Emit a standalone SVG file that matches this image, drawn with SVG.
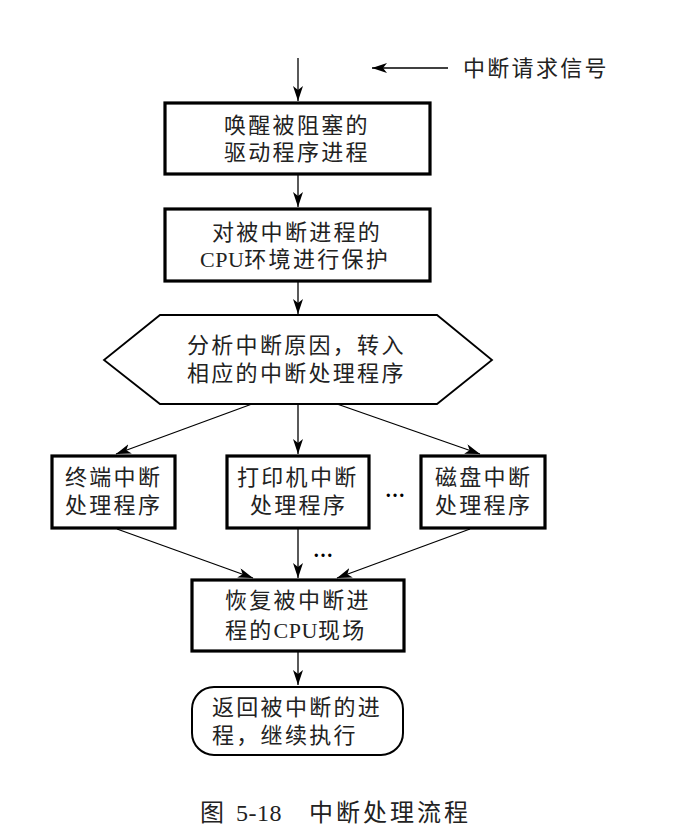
<svg xmlns="http://www.w3.org/2000/svg" width="678" height="836" viewBox="0 0 678 836">
<defs>
<marker id="ah" viewBox="0 0 15 10" refX="15" refY="5" markerWidth="15" markerHeight="10" markerUnits="userSpaceOnUse" orient="auto">
<path d="M0,0 L15,5 L0,10 L4,5 z" fill="#000"/>
</marker>
<style>
.box{fill:#fff;stroke:#000;stroke-width:3.2}
.thin{fill:#fff;stroke:#000;stroke-width:1.8}
.t{font-family:"Liberation Serif","Noto Sans CJK SC",serif;font-size:22px;letter-spacing:2.3px;fill:#222}
.lat{letter-spacing:0.5px}
.c{stroke:#000;stroke-width:1.3;fill:none;marker-end:url(#ah)}
.dots{font-family:"Liberation Serif",serif;font-size:20px;font-weight:bold;fill:#000}
</style>
</defs>
<rect width="678" height="836" fill="#fff"/>
<g id="connectors">
<line class="c" x1="298" y1="58" x2="298" y2="101"/>
<line class="c" x1="448" y1="68" x2="372" y2="68"/>
<line class="c" x1="298" y1="175" x2="298" y2="207"/>
<line class="c" x1="298" y1="282" x2="298" y2="314"/>
<line class="c" x1="252" y1="404" x2="116" y2="454"/>
<line class="c" x1="298" y1="404" x2="298" y2="454"/>
<line class="c" x1="337" y1="404" x2="480" y2="454"/>
<line class="c" x1="117" y1="529" x2="253" y2="578"/>
<line class="c" x1="298" y1="529" x2="298" y2="578"/>
<line class="c" x1="470" y1="529" x2="337" y2="578"/>
<line class="c" x1="298" y1="652" x2="298" y2="685"/>
</g>
<g id="signal">
<text class="t" x="463" y="76">中断请求信号</text>
</g>
<g id="wake">
<rect class="box" x="165" y="103" width="265" height="71"/>
<text class="t" x="224" y="133">唤醒被阻塞的</text>
<text class="t" x="224" y="160">驱动程序进程</text>
</g>
<g id="protect">
<rect class="box" x="165" y="209" width="265" height="72"/>
<text class="t" x="212" y="240">对被中断进程的</text>
<text class="t" x="200" y="267"><tspan class="lat">CPU</tspan>环境进行保护</text>
</g>
<g id="analyze">
<polygon class="thin" points="160,315 437,315 492,360 437,404 160,404 104,360"/>
<text class="t" x="187" y="353">分析中断原因，转入</text>
<text class="t" x="187" y="381">相应的中断处理程序</text>
</g>
<g id="terminal">
<rect class="box" x="52" y="456" width="123" height="72"/>
<text class="t" x="65" y="485">终端中断</text>
<text class="t" x="65" y="513">处理程序</text>
</g>
<g id="printer">
<rect class="box" x="227" y="456" width="142" height="72"/>
<text class="t" x="237" y="485">打印机中断</text>
<text class="t" x="250" y="513">处理程序</text>
</g>
<g id="disk">
<rect class="box" x="421" y="456" width="124" height="72"/>
<text class="t" x="435" y="485">磁盘中断</text>
<text class="t" x="435" y="513">处理程序</text>
</g>
<g id="dots">
<text class="dots" x="395" y="497" text-anchor="middle">…</text>
<text class="dots" x="323" y="557" text-anchor="middle">…</text>
</g>
<g id="restore">
<rect class="box" x="192" y="580" width="212" height="71"/>
<text class="t" x="225" y="608">恢复被中断进</text>
<text class="t" x="225" y="638">程的<tspan class="lat">CPU</tspan>现场</text>
</g>
<g id="return">
<rect class="thin" x="192" y="687" width="211" height="68" rx="22" ry="22" style="stroke-width:2"/>
<text class="t" x="212" y="715">返回被中断的进</text>
<text class="t" x="212" y="743">程，继续执行</text>
</g>
<g id="caption">
<text class="t" x="200" y="821" style="font-size:24px;letter-spacing:3px">图 <tspan class="lat">5-18</tspan>　中断处理流程</text>
</g>
</svg>
